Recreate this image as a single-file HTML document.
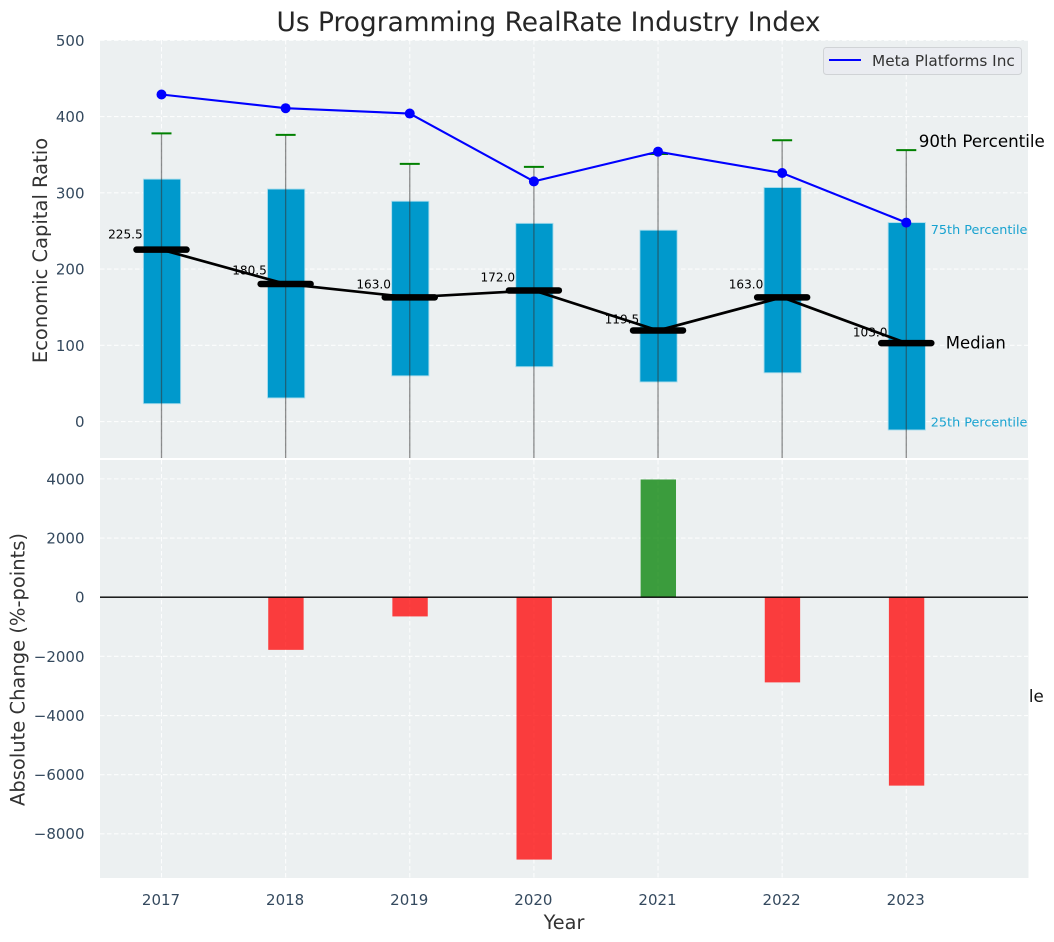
<!DOCTYPE html>
<html lang="en">
<head>
<meta charset="utf-8">
<title>Us Programming RealRate Industry Index</title>
<style>
html,body{margin:0;padding:0;background:#fff;width:1054px;height:942px;overflow:hidden}
svg{display:block;font-family:"DejaVu Sans","Liberation Sans",sans-serif}
</style>
</head>
<body>
<svg id="chart" xmlns="http://www.w3.org/2000/svg" width="1054" height="942" viewBox="0 0 1054 942">
<defs>
<clipPath id="clipTop"><rect x="100" y="40" width="928" height="418"></rect></clipPath>
<clipPath id="clipBottom"><rect x="100" y="460" width="928" height="418"></rect></clipPath>
</defs>
</svg>
<script>
const years = [2017, 2018, 2019, 2020, 2021, 2022, 2023];
const p90 = [378, 376, 338, 334, 351, 369, 356];
const p75 = [318, 305, 289, 260, 251, 307, 261];
const median = [225.5, 180.5, 163.0, 172.0, 119.5, 163.0, 103.0];
const p25 = [23.5, 31, 60, 72, 52, 64, -11];
const p10 = [-120, -110, -100, -90, -105, -95, -115];
const meta = [429, 411, 404, 315, 354, 326, 261];
const change = [null, -1780, -650, -8870, 3980, -2880, -6370];
const topTicks = [0, 100, 200, 300, 400, 500];
const bottomTicks = [-8000, -6000, -4000, -2000, 0, 2000, 4000];

const svg = document.getElementById('chart');
const NS = 'http://www.w3.org/2000/svg';
const sx = v => 161.5 + (v - 2017) * 124.13;
const sy = v => 421.6 - v * 0.7625;
const by = v => 597.2 - v * 0.02958;

function make(parent, tag, attrs, text) {
  const node = document.createElementNS(NS, tag);
  for (const k in attrs) node.setAttribute(k, attrs[k]);
  if (text !== undefined) node.textContent = text;
  parent.appendChild(node);
  return node;
}
const minus = v => String(v).replace('-', '\u2212');
let el;

el = make(svg, 'rect', {x: 0, y: 0, width: 1054, height: 942, fill: '#ffffff'});



el = make(svg, 'text', {x: 548.5, y: 31, 'text-anchor': 'middle', 'font-size': 26.45, fill: '#262626'}, 'Us Programming RealRate Industry Index');



/* Hidden-behind-axes annotation: only its tail shows past the lower axes */
el = make(svg, 'text', {x: sx(2023) + 11.5, y: 702, 'font-size': 16.7, fill: '#111111'}, '10th Percentile');



el = make(svg, 'rect', {x: 100, y: 40, width: 928, height: 418, fill: '#ecf0f1'});



el = make(svg, 'rect', {x: 100, y: 460, width: 928.5, height: 418, fill: '#ecf0f1'});



const gridTop = make(svg, 'g', {'clip-path': 'url(#clipTop)', stroke: '#ffffff', 'stroke-width': 1.1, 'stroke-dasharray': '4.5 2.5', 'stroke-opacity': 0.85});


const gridBottom = make(svg, 'g', {'clip-path': 'url(#clipBottom)', stroke: '#ffffff', 'stroke-width': 1.1, 'stroke-dasharray': '4.5 2.5', 'stroke-opacity': 0.85});



topTicks.forEach(t => {
  el = make(gridTop, 'line', {x1: 100, x2: 1028, y1: sy(t), y2: sy(t)});
  
  
  el = make(svg, 'text', {x: 84.5, y: sy(t) + 5.4, 'text-anchor': 'end', 'font-size': 15, fill: '#34495e'}, minus(t));
  
  
});
bottomTicks.forEach(t => {
  el = make(gridBottom, 'line', {x1: 100, x2: 1028, y1: by(t), y2: by(t)});
  
  
  el = make(svg, 'text', {x: 84.5, y: by(t) + 5.4, 'text-anchor': 'end', 'font-size': 15, fill: '#34495e'}, minus(t));
  
  
});
years.forEach(y => {
  el = make(gridTop, 'line', {x1: sx(y), x2: sx(y), y1: 40, y2: 458});
  
  
  el = make(gridBottom, 'line', {x1: sx(y), x2: sx(y), y1: 460, y2: 878});
  
  
  el = make(svg, 'text', {x: sx(y) - 0.5, y: 905, 'text-anchor': 'middle', 'font-size': 15, fill: '#34495e'}, String(y));
  
  
});

const topG = make(svg, 'g', {'clip-path': 'url(#clipTop)'});



years.forEach((y, i) => {
  el = make(svg, 'text', {x: sx(y) - 18.8, y: sy(median[i]) - (2.7 + 0.0375 * median[i]), 'text-anchor': 'end', 'font-size': 12.1, fill: '#000000'}, median[i].toFixed(1));
  
  
});

years.forEach((y, i) => {
  const w = 0.3 * 124.13;
  el = make(topG, 'rect', {x: sx(y) + 0.5 - w / 2, y: sy(p75[i]), width: w, height: sy(p25[i]) - sy(p75[i]), fill: '#0099cc', stroke: '#a9dcec', 'stroke-width': 0.9});
  
  
});
years.forEach((y, i) => {
  el = make(topG, 'line', {x1: sx(y), x2: sx(y), y1: sy(p90[i]), y2: sy(p10[i]), stroke: '#333333', 'stroke-width': 1.3, 'stroke-opacity': 0.55});
  
  
  el = make(topG, 'line', {x1: sx(y) - 10, x2: sx(y) + 10, y1: sy(p90[i]), y2: sy(p90[i]), stroke: '#008000', 'stroke-width': 2});
  
  
});

el = make(topG, 'polyline', {points: years.map((y, i) => sx(y) + ',' + sy(median[i])).join(' '), fill: 'none', stroke: '#000000', 'stroke-width': 2.7});


years.forEach((y, i) => {
  el = make(topG, 'line', {x1: sx(y) - 25, x2: sx(y) + 25, y1: sy(median[i]), y2: sy(median[i]), stroke: '#000000', 'stroke-width': 6.5, 'stroke-linecap': 'round'});
  
  
});

el = make(topG, 'polyline', {points: years.map((y, i) => sx(y) + ',' + sy(meta[i])).join(' '), fill: 'none', stroke: '#0000ff', 'stroke-width': 2.1});


years.forEach((y, i) => {
  el = make(topG, 'circle', {cx: sx(y), cy: sy(meta[i]), r: 5, fill: '#0000ff'});
  
  
});

const last = years.length - 1;
const lastX = sx(years[last]);
el = make(svg, 'text', {x: lastX + 12.5, y: sy(p90[last]) - 3, 'font-size': 16.7, fill: '#000000'}, '90th Percentile');


el = make(svg, 'text', {x: lastX + 24.5, y: sy(p75[last]) + 11.2, 'font-size': 12.8, fill: '#0099cc', 'fill-opacity': 0.9}, '75th Percentile');


el = make(svg, 'text', {x: lastX + 39.5, y: sy(median[last]) + 5.3, 'font-size': 16.5, fill: '#000000'}, 'Median');


el = make(svg, 'text', {x: lastX + 24.5, y: sy(p25[last]) - 3.6, 'font-size': 12.8, fill: '#0099cc', 'fill-opacity': 0.9}, '25th Percentile');



const bottomG = make(svg, 'g', {'clip-path': 'url(#clipBottom)'});


years.forEach((y, i) => {
  if (change[i] === null) return;
  const w = 0.285 * 124.13;
  const v = change[i];
  el = make(bottomG, 'rect', {x: sx(y) + 0.3 - w / 2, y: Math.min(by(0), by(v)), width: w, height: Math.abs(by(v) - by(0)), fill: v >= 0 ? '#008000' : '#ff0000', 'fill-opacity': 0.75});
  
  
});
el = make(bottomG, 'line', {x1: 100, x2: 1028, y1: by(0), y2: by(0), stroke: '#000000', 'stroke-width': 1.4});



el = make(svg, 'text', {x: 47, y: 250.5, 'text-anchor': 'middle', 'font-size': 19.5, fill: '#333333', transform: 'rotate(-90 47 250.5)'}, 'Economic Capital Ratio');


el = make(svg, 'text', {x: 24.5, y: 669.5, 'text-anchor': 'middle', 'font-size': 19.5, fill: '#333333', transform: 'rotate(-90 24.5 669.5)'}, 'Absolute Change (%-points)');


el = make(svg, 'text', {x: 564, y: 929, 'text-anchor': 'middle', 'font-size': 19.3, fill: '#333333'}, 'Year');



const legend = make(svg, 'g', {});


el = make(legend, 'rect', {x: 823.5, y: 47.5, width: 198, height: 27, rx: 3, fill: '#eaecf1', stroke: '#d0d3d6', 'stroke-width': 1});


el = make(legend, 'line', {x1: 829, x2: 861, y1: 60, y2: 60, stroke: '#0000ff', 'stroke-width': 2});


el = make(legend, 'text', {x: 872, y: 66, 'font-size': 15.3, fill: '#333333'}, 'Meta Platforms Inc');


</script>
</body>
</html>
